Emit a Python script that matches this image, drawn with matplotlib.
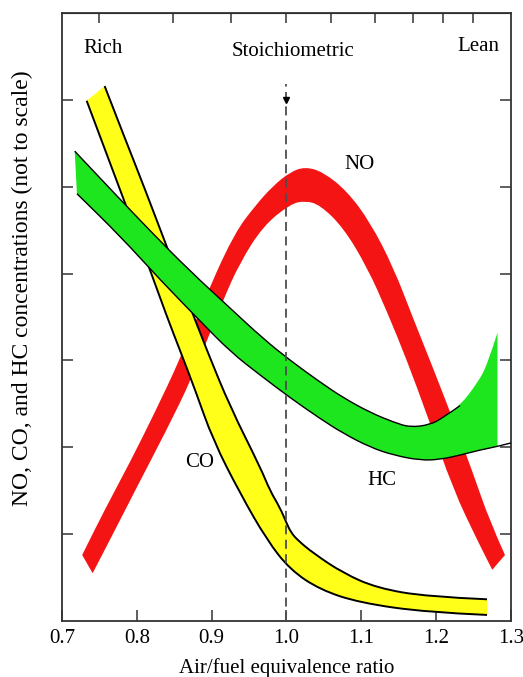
import matplotlib.pyplot as plt
import numpy as np
from matplotlib.path import Path
from matplotlib.patches import PathPatch

plt.rcParams["font.family"] = ["Liberation Serif", "DejaVu Serif"]

# band edges: x = air/fuel equivalence ratio, y = relative concentration
NO_OUTER_X = [0.727, 0.757, 0.791, 0.824, 0.858, 0.898, 0.931, 0.958, 0.982, 1.005, 1.025,
              1.049, 1.081, 1.112, 1.143, 1.169, 1.196, 1.223, 1.249, 1.272, 1.292]
NO_OUTER_Y = [0.76, 1.28, 1.83, 2.40, 3.02, 3.86, 4.47, 4.78, 5.01, 5.17, 5.23,
              5.17, 4.95, 4.59, 4.07, 3.49, 2.91, 2.31, 1.71, 1.14, 0.76]
NO_INNER_X = [0.741, 0.771, 0.800, 0.838, 0.874, 0.915, 0.938, 0.969, 1.005, 1.025,
              1.045, 1.076, 1.108, 1.134, 1.161, 1.188, 1.223, 1.255, 1.275]
NO_INNER_Y = [0.55, 1.05, 1.54, 2.17, 2.80, 3.69, 4.13, 4.55, 4.80, 4.84,
              4.79, 4.53, 4.07, 3.57, 3.00, 2.37, 1.51, 0.93, 0.59]

CO_UPPER_X = [0.757, 0.784, 0.811, 0.840, 0.867, 0.894, 0.925, 0.965, 0.978, 0.991, 1.000,
              1.006, 1.015, 1.036, 1.076, 1.121, 1.188, 1.268]
CO_UPPER_Y = [6.16, 5.56, 4.97, 4.31, 3.71, 3.11, 2.46, 1.77, 1.50, 1.31, 1.13,
              1.02, 0.93, 0.78, 0.55, 0.38, 0.28, 0.25]
CO_LOWER_X = [0.733, 0.760, 0.787, 0.814, 0.840, 0.858, 0.878, 0.902, 0.938, 0.974,
              1.005, 1.045, 1.098, 1.188, 1.268]
CO_LOWER_Y = [5.99, 5.37, 4.75, 4.13, 3.51, 3.11, 2.66, 2.08, 1.47, 0.93,
              0.59, 0.36, 0.21, 0.10, 0.07]

HC_UPPER_X = [0.717, 0.764, 0.818, 0.871, 0.925, 0.969, 1.005, 1.045, 1.076, 1.112,
              1.143, 1.165, 1.192, 1.209, 1.232, 1.255, 1.268, 1.282]
HC_UPPER_Y = [5.41, 4.98, 4.49, 4.03, 3.60, 3.25, 3.00, 2.75, 2.57, 2.40,
              2.29, 2.23, 2.26, 2.34, 2.48, 2.74, 2.94, 3.32]
HC_LOWER_X = [0.720, 0.778, 0.831, 0.884, 0.925, 0.965, 1.005, 1.045, 1.076, 1.112,
              1.143, 1.179, 1.205, 1.232, 1.259, 1.282, 1.300]
HC_LOWER_Y = [4.92, 4.43, 3.93, 3.46, 3.10, 2.83, 2.57, 2.33, 2.16, 2.00,
              1.91, 1.85, 1.86, 1.91, 1.97, 2.01, 2.05]

X_TICKS = [0.7, 0.8, 0.9, 1.0, 1.1, 1.2, 1.3]
X_TICK_LABELS = ["0.7", "0.8", "0.9", "1.0", "1.1", "1.2", "1.3"]
Y_TICKS = [1, 2, 3, 4, 5, 6]
TOP_TICKS = [0.749, 0.848, 0.926, 0.999, 1.060, 1.118, 1.169, 1.209, 1.249]


def smooth_edge(xs, ys, first=Path.MOVETO):
    # quadratic bezier through the midpoints, read points act as control points
    pts = np.column_stack([xs, ys])
    verts = [pts[0]]
    codes = [first]
    if len(pts) > 2:
        verts.append((pts[0] + pts[1]) / 2)
        codes.append(Path.LINETO)
        for i in range(1, len(pts) - 1):
            end = (pts[i] + pts[i + 1]) / 2 if i < len(pts) - 2 else pts[-1]
            verts += [pts[i], end]
            codes += [Path.CURVE3, Path.CURVE3]
    else:
        verts.append(pts[-1])
        codes.append(Path.LINETO)
    return verts, codes


def band_path(ux, uy, lx, ly):
    v1, c1 = smooth_edge(ux, uy)
    v2, c2 = smooth_edge(lx[::-1], ly[::-1], first=Path.LINETO)
    return Path(v1 + v2 + [v1[0]], c1 + c2 + [Path.CLOSEPOLY])


def edge_path(xs, ys):
    v, c = smooth_edge(xs, ys)
    return Path(v, c)


fig = plt.figure(figsize=(5.23, 6.77), dpi=100)
ax = fig.add_axes([0.1185, 0.0827, 0.8585, 0.898])

# NO band (no outline)
ax.add_patch(PathPatch(band_path(NO_OUTER_X, NO_OUTER_Y, NO_INNER_X, NO_INNER_Y),
                       facecolor="#f51414", lw=0, zorder=1))

# CO band with black side lines
ax.add_patch(PathPatch(band_path(CO_UPPER_X, CO_UPPER_Y, CO_LOWER_X, CO_LOWER_Y),
                       facecolor="#ffff1a", lw=0, zorder=2))
for ex, ey in [(CO_UPPER_X, CO_UPPER_Y), (CO_LOWER_X, CO_LOWER_Y)]:
    ax.add_patch(PathPatch(edge_path(ex, ey), fill=False, edgecolor="black", lw=1.4, zorder=2.1))

# HC band, lower edge runs on to the frame
keep = [i for i, v in enumerate(HC_LOWER_X) if v <= HC_UPPER_X[-1]]
ax.add_patch(PathPatch(band_path(HC_UPPER_X, HC_UPPER_Y,
                                 [HC_LOWER_X[i] for i in keep], [HC_LOWER_Y[i] for i in keep]),
                       facecolor="#1ee61e", lw=0, zorder=3))
ax.add_patch(PathPatch(edge_path(HC_UPPER_X[:-3], HC_UPPER_Y[:-3]), fill=False,
                       edgecolor="black", lw=1.0, zorder=3.1))
ax.add_patch(PathPatch(edge_path(HC_LOWER_X, HC_LOWER_Y), fill=False,
                       edgecolor="black", lw=1.0, zorder=3.1))

# stoichiometric line
ax.plot([1.0, 1.0], [0, 6.18], color="0.3", lw=1.3, ls=(0, (5, 3)), zorder=5)
ax.plot(1.0, 6.0, marker="v", ms=4, color="black", zorder=5)

fs = 15
ax.text(0.755, 6.59, "Rich", fontsize=fs, ha="center", va="center")
ax.text(1.009, 6.56, "Stoichiometric", fontsize=fs, ha="center", va="center")
ax.text(1.256, 6.62, "Lean", fontsize=fs, ha="center", va="center")
ax.text(1.098, 5.26, "NO", fontsize=fs, ha="center", va="center")
ax.text(0.884, 1.82, "CO", fontsize=fs, ha="center", va="center")
ax.text(1.128, 1.62, "HC", fontsize=fs, ha="center", va="center")

ax.set_xlim(0.7, 1.3)
ax.set_ylim(0, 7)
ax.set_xticks(X_TICKS)
ax.set_xticklabels(X_TICK_LABELS, fontsize=fs)
ax.set_yticks(Y_TICKS)
ax.tick_params(axis="both", direction="in", length=8, width=1.1, color="0.2",
               right=True, labelleft=False, pad=6)
for side in ax.spines.values():
    side.set_linewidth(1.3)
    side.set_color("0.2")

top = ax.secondary_xaxis("top")
top.set_xticks(TOP_TICKS)
top.tick_params(direction="in", length=7, width=1.1, color="0.2", labeltop=False)

ax.set_xlabel("Air/fuel equivalence ratio", fontsize=fs, labelpad=7)
ax.set_ylabel("NO, CO, and HC concentrations (not to scale)", fontsize=fs + 2)
ax.yaxis.set_label_coords(-0.065, 0.548)

fig.savefig("out.png", dpi=100)
